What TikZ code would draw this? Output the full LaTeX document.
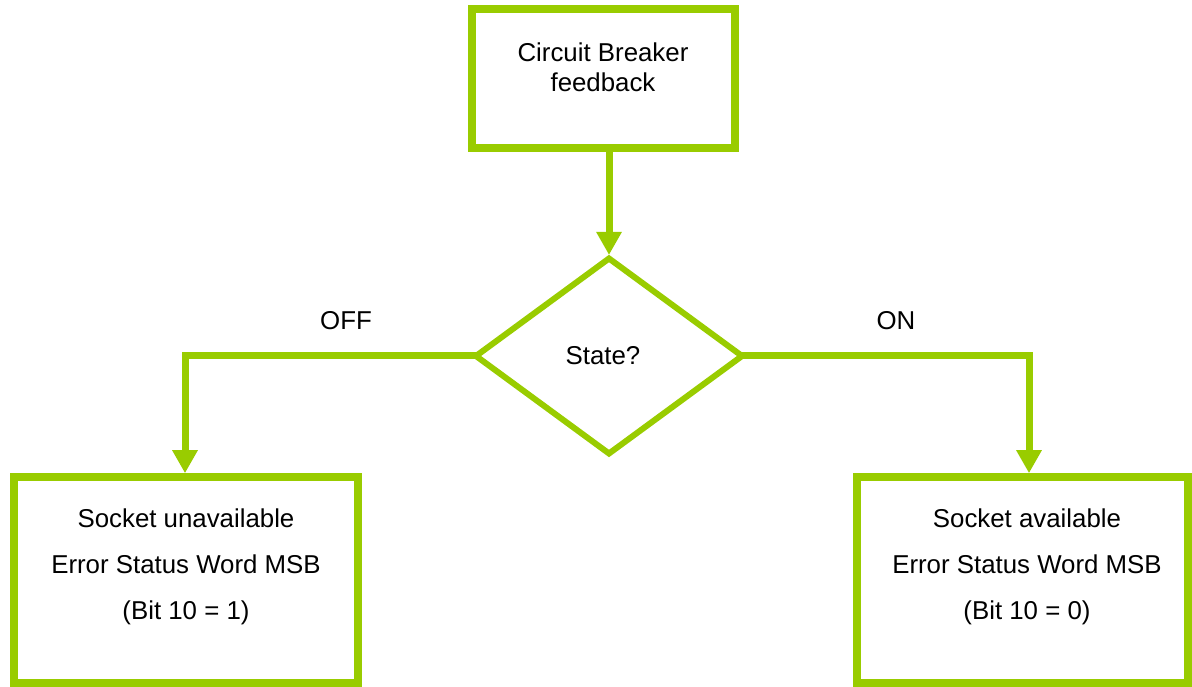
\documentclass[tikz,border=0pt]{standalone}
\usepackage{fontspec}
\setmainfont{Liberation Sans}
\usetikzlibrary{arrows.meta,shapes.geometric}
\definecolor{cbgreen}{RGB}{153,204,0}
\tikzset{
	box/.style={draw=cbgreen, line width=0.15cm, rectangle, inner sep=0pt},
	decision/.style={draw=cbgreen, line width=0.12cm, diamond, inner sep=0pt, outer sep=0pt, minimum width=5.32cm, minimum height=3.9cm},
	flow/.style={draw=cbgreen, line width=0.14cm, -{Triangle[width=0.48cm,length=0.46cm]}},
	txt/.style={font=\fontsize{14.7}{26}\selectfont, align=center, inner sep=0pt},
}

\begin{document}
\begin{tikzpicture}
			%%%%% START %%%%%
			\useasboundingbox (0, 0) rectangle (23.84, 13.74);
			
			\node[box, minimum width=5.26cm, minimum height=2.78cm] (feedback) at (12.07, 12.17) {};
			\node[txt, font=\fontsize{14.7}{17}\selectfont] (feedbacktext) at (12.06, 12.4) {Circuit Breaker\\feedback};
			
			\node[decision] (state) at (12.18, 6.62) {};
			\node[txt] (statetext) at (12.06, 6.62) {State?};
			
			\node[box, minimum width=6.88cm, minimum height=4.12cm] (unavail) at (3.72, 2.14) {};
			\node[txt] (unavailtext) at (3.72, 2.4) {Socket unavailable\\Error Status Word MSB\\(Bit 10 = 1)};
			
			\node[box, minimum width=6.62cm, minimum height=4.12cm] (avail) at (20.45, 2.14) {};
			\node[txt] (availtext) at (20.54, 2.4) {Socket available\\Error Status Word MSB\\(Bit 10 = 0)};
			
			\coordinate (offbend) at (3.7, 6.62);
			\coordinate (onbend) at (20.58, 6.62);
			\coordinate (statetop) at (12.18, 8.64);
			
			\draw[flow] (statetop |- feedback.south) -- (statetop);
			\draw[flow] (state.west) -- (offbend) -- (offbend |- unavail.north);
			\draw[flow] (state.east) -- (onbend) -- (onbend |- avail.north);
			
			\node[txt] (off) at (6.92, 7.32) {OFF};
			\node[txt] (on) at (17.92, 7.32) {ON};
			
			%%%%% END %%%%%
\end{tikzpicture}
\end{document}
